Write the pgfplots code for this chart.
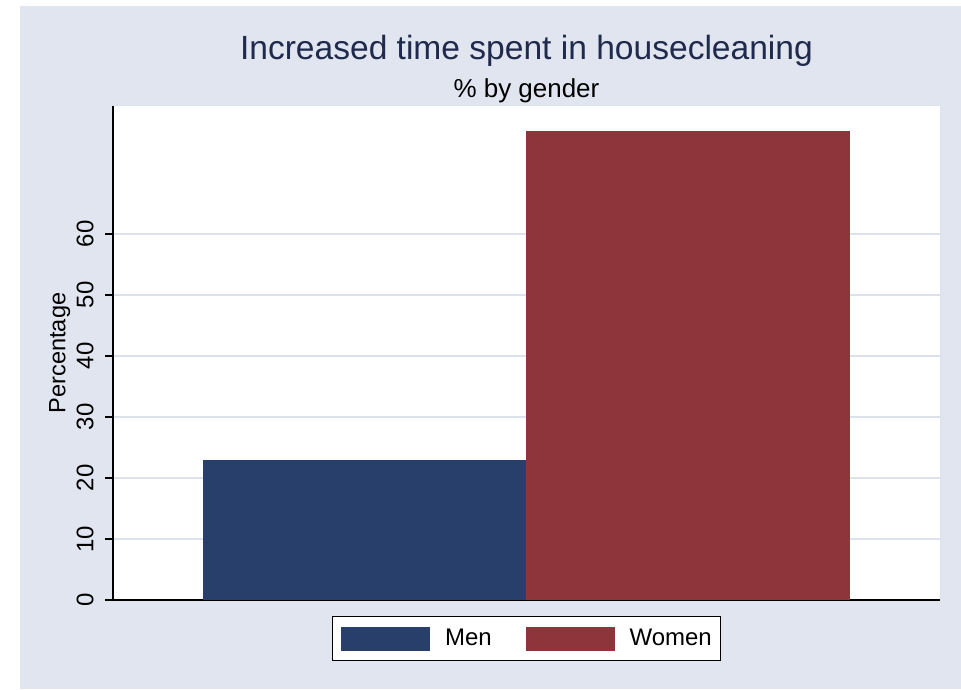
\documentclass[border=0pt]{standalone}
\usepackage{pgfplots}
\pgfplotsset{compat=1.18}
\usepackage{fontspec}
\setmainfont{Liberation Sans}

\definecolor{bgblue}{HTML}{E1E5F0}
\definecolor{gridblue}{HTML}{DCE1EE}
\definecolor{stnavy}{HTML}{283F6C}
\definecolor{stmaroon}{HTML}{8E353C}
\definecolor{titlenavy}{HTML}{1F2A4C}

\begin{document}
\begin{tikzpicture}
% page and graph region
\fill[white] (-56.5pt,-44.65pt) rectangle (424.5pt,300.35pt);
\fill[bgblue] (-46.5pt,-44.65pt) rectangle (424.5pt,297.35pt);
\begin{axis}[
  at={(0,0)}, anchor=south west,
  scale only axis,
  width=414pt, height=247.35pt,
  clip=false,
  ybar, bar width=162pt, bar shift=0pt,
  xmin=0.2222, xmax=2.7778,
  ymin=0, ymax=80.95,
  xtick=\empty,
  ytick={0,10,20,30,40,50,60},
  axis x line*=bottom, axis y line*=left,
  axis line style={black, line width=0.75pt},
  axis background/.style={fill=white, draw=gridblue, line width=0.5pt},
  ymajorgrids, grid style={gridblue, line width=0.75pt},
  tick align=outside, major tick length=4pt,
  tick style={black, line width=0.75pt},
  /pgf/number format/assume math mode=true,
  tick label style={font=\fontsize{12}{14}\selectfont},
  yticklabel style={rotate=90, anchor=south, inner sep=0pt},
  yticklabel shift=5.5pt,
  ylabel={Percentage},
  ylabel style={at={(axis description cs:-0.0575,0.5)}, anchor=base,
    font=\fontsize{11.8}{14}\selectfont},
  legend columns=2,
  legend style={at={(0.5,0)}, anchor=north, yshift=-8pt,
    draw=black, line width=0.5pt, fill=white,
    inner xsep=4.5pt, inner ysep=5pt,
    nodes={inner sep=0pt},
    font=\fontsize{12}{14}\selectfont,
    /tikz/every odd column/.append style={column sep=7.5pt},
    /tikz/every even column/.append style={column sep=17pt}},
]
\addplot[fill=stnavy, draw=none,
  legend image code/.code={\fill[stnavy] (0pt,-6pt) rectangle (44.5pt,6pt);}]
  coordinates {(1,23.0)};
\addlegendentry{Men}
\addplot[fill=stmaroon, draw=none,
  legend image code/.code={\fill[stmaroon] (0pt,-6pt) rectangle (44.5pt,6pt);}]
  coordinates {(2,76.9)};
\addlegendentry{Women}

\node[anchor=base, text=titlenavy, font=\fontsize{16.8}{20}\selectfont]
  at (rel axis cs:0.5,1.093) {Increased time spent in housecleaning};
\node[anchor=base, font=\fontsize{13}{15}\selectfont]
  at (rel axis cs:0.5,1.016) {\% by gender};
\end{axis}
\end{tikzpicture}
\end{document}
